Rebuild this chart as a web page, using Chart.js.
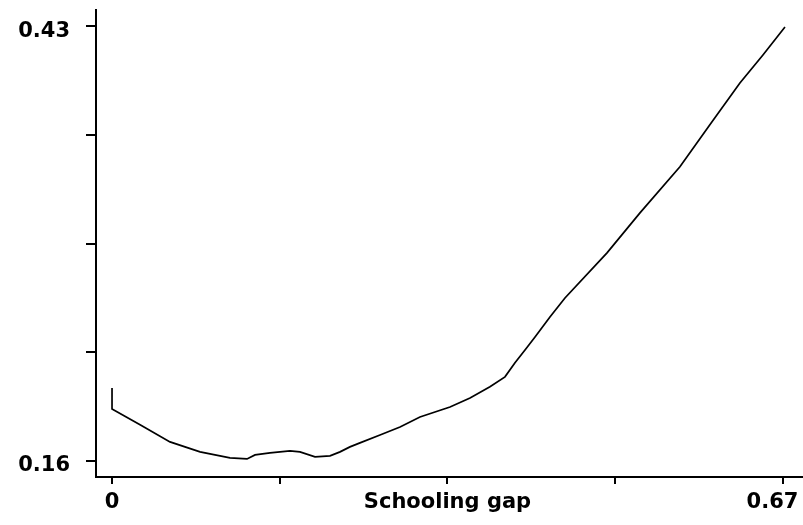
<!DOCTYPE html>
<html>
<head>
<meta charset="utf-8">
<script src="https://cdn.jsdelivr.net/npm/chart.js@4.4.1/dist/chart.umd.min.js"></script>
<style>
    html, body { margin: 0; padding: 0; background: #fff; }
    #wrap { width: 803px; height: 525px; }
</style>
</head>
<body>
<div id="wrap"><canvas id="chart"></canvas></div>
<script>
// values
const schoolingGap = [0, 0, 0.028, 0.0579, 0.0879, 0.1178, 0.1348, 0.1428, 0.1578, 0.1777,
    0.1877, 0.2027, 0.2177, 0.2277, 0.2376, 0.2476, 0.2676, 0.2876, 0.3075, 0.3375,
    0.3575, 0.3774, 0.3924, 0.4024, 0.4124, 0.4224, 0.4373, 0.4523, 0.4943, 0.5272,
    0.5671, 0.597, 0.627, 0.65, 0.672];
const yValues = [0.2053, 0.1923, 0.1824, 0.1718, 0.1656, 0.1619, 0.1612, 0.1637, 0.165, 0.1662,
    0.1656, 0.1625, 0.1631, 0.1656, 0.1687, 0.1712, 0.1761, 0.1811, 0.1873, 0.1935,
    0.1991, 0.206, 0.2122, 0.2209, 0.2289, 0.237, 0.2494, 0.2612, 0.2892, 0.314,
    0.3426, 0.3687, 0.3947, 0.4121, 0.4295];

const xTicks = [0, 0.1675, 0.335, 0.5025, 0.67];
const xTickLabels = ['0', '', 'Schooling gap', '', '0.67\u2003'];
const yTicks = [0.16, 0.2275, 0.295, 0.3625, 0.43];
const yTickLabels = ['0.16', '', '', '', '0.43'];

const labelFont = { family: 'DejaVu Sans', size: 21, weight: 'bold' };

const points = schoolingGap.map((x, i) => ({ x: x, y: yValues[i] }));

new Chart(document.getElementById('chart'), {
    type: 'scatter',
    data: {
        datasets: [
            {
                data: points,
                showLine: true,
                borderColor: '#000',
                borderWidth: 1.7,
                pointRadius: 0,
                tension: 0
            }
        ]
    },
    options: {
        responsive: true,
        maintainAspectRatio: false,
        animation: false,
        layout: { padding: { top: 10, right: 0, bottom: 0, left: 0 } },
        plugins: {
            legend: { display: false },
            tooltip: { enabled: false }
        },
        scales: {
            x: {
                type: 'linear',
                min: -0.016,
                max: 0.69,
                afterBuildTicks: scale => { scale.ticks = xTicks.map(v => ({ value: v })); },
                afterFit: scale => {
                    scale.height = 48;
                    scale.paddingLeft = 0;
                    scale.paddingRight = 0;
                },
                ticks: {
                    autoSkip: false,
                    maxRotation: 0,
                    color: '#000',
                    font: labelFont,
                    padding: 6,
                    callback: (value, index) => xTickLabels[index]
                },
                grid: {
                    drawOnChartArea: false,
                    drawTicks: true,
                    tickLength: 7,
                    color: '#000',
                    lineWidth: 2
                },
                border: { color: '#000', width: 2 }
            },
            y: {
                type: 'linear',
                min: 0.15,
                max: 0.44,
                afterBuildTicks: scale => { scale.ticks = yTicks.map(v => ({ value: v })); },
                afterFit: scale => {
                    scale.width = 96;
                    scale.paddingTop = 0;
                    scale.paddingBottom = 0;
                },
                ticks: {
                    autoSkip: false,
                    color: '#000',
                    font: labelFont,
                    padding: 16,
                    labelOffset: 5,
                    callback: (value, index) => yTickLabels[index]
                },
                grid: {
                    drawOnChartArea: false,
                    drawTicks: true,
                    tickLength: 10,
                    color: '#000',
                    lineWidth: 2
                },
                border: { color: '#000', width: 2 }
            }
        }
    }
});
</script>
</body>
</html>
